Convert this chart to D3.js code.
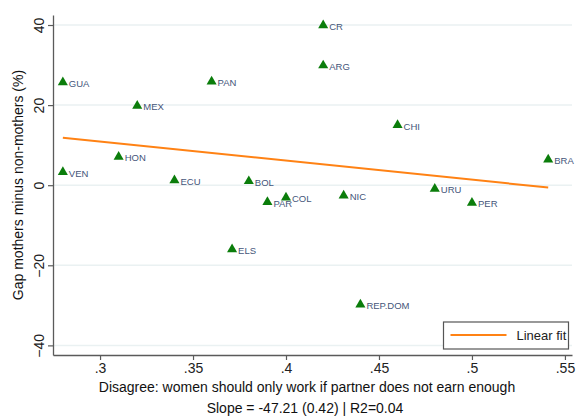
<!DOCTYPE html>
<html>
<head>
<meta charset="utf-8">
<script src="https://cdn.jsdelivr.net/npm/d3@7"></script>
<style>
  body { margin: 0; background: #fff; }
  svg { display: block; font-family: "Liberation Sans", Arial, sans-serif; }
</style>
</head>
<body>
<svg width="577" height="416"></svg>
<script>
var countries = ["GUA", "VEN", "HON", "MEX", "ECU", "PAN", "ELS", "BOL", "PAR", "COL",
                 "CR", "ARG", "NIC", "REP.DOM", "CHI", "URU", "PER", "BRA"];
var disagree = [0.28, 0.28, 0.31, 0.32, 0.34, 0.36, 0.371, 0.38, 0.39, 0.40,
                0.42, 0.42, 0.431, 0.44, 0.46, 0.48, 0.50, 0.541];
var gap = [25.7, 3.3, 7.1, 19.8, 1.2, 25.9, -16.0, 1.0, -4.2, -3.1,
           39.9, 29.9, -2.6, -29.8, 15.0, -0.9, -4.4, 6.4];

var xTicks = [0.3, 0.35, 0.4, 0.45, 0.5, 0.55];
var yTicks = [-40, -20, 0, 20, 40];

var svg = d3.select("svg"),
    width = +svg.attr("width"),
    height = +svg.attr("height");

var margin = {left: 53, right: 5, top: 15, bottom: 61};

var x = d3.scaleLinear()
    .domain([0.2747, 0.5538])
    .range([margin.left, width - margin.right]);

var y = d3.scaleLinear()
    .domain([-42.4, 42.5])
    .range([height - margin.bottom, margin.top]);

// gridlines
svg.append("g")
  .selectAll("line")
  .data(yTicks)
  .enter().append("line")
    .attr("x1", margin.left)
    .attr("x2", width - margin.right)
    .attr("y1", function(d) { return y(d); })
    .attr("y2", function(d) { return y(d); })
    .attr("stroke", "#eaf1f2")
    .attr("stroke-width", 1.5);

// axes
var fmtX = function(d) { return d3.format(".2~f")(d).replace(/^0/, ""); };

var xAxis = svg.append("g")
    .attr("transform", "translate(0," + (height - margin.bottom) + ")")
    .call(d3.axisBottom(x).tickValues(xTicks).tickFormat(fmtX).tickSize(5).tickPadding(3).tickSizeOuter(0));

var yAxis = svg.append("g")
    .attr("transform", "translate(" + margin.left + ",0)")
    .call(d3.axisLeft(y).tickValues(yTicks).tickSize(5).tickSizeOuter(0));

[xAxis, yAxis].forEach(function(a) {
  a.select(".domain").attr("stroke", "#5a5a5a").attr("stroke-width", 1.3);
  a.selectAll(".tick line").attr("stroke", "#5a5a5a").attr("stroke-width", 1.2);
  a.selectAll(".tick text")
      .attr("fill", "#222")
      .style("font-size", "14px")
      .style("font-family", "'Liberation Sans', Arial, sans-serif");
});

yAxis.selectAll(".tick text")
    .attr("x", null).attr("dy", null)
    .attr("text-anchor", "middle")
    .attr("transform", "translate(-9,0) rotate(-90)");

// fit line
var n = disagree.length,
    mx = d3.mean(disagree),
    my = d3.mean(gap),
    sxy = d3.sum(disagree, function(d, i) { return (d - mx) * (gap[i] - my); }),
    sxx = d3.sum(disagree, function(d) { return (d - mx) * (d - mx); }),
    slope = sxy / sxx,
    intercept = my - slope * mx;
var xr = d3.extent(disagree);

svg.append("line")
    .attr("x1", x(xr[0]))
    .attr("x2", x(xr[1]))
    .attr("y1", y(intercept + slope * xr[0]))
    .attr("y2", y(intercept + slope * xr[1]))
    .attr("stroke", "#ff8214")
    .attr("stroke-width", 2);

// points
var pts = svg.append("g")
  .selectAll("g")
  .data(countries)
  .enter().append("g")
    .attr("transform", function(d, i) {
      return "translate(" + x(disagree[i]) + "," + y(gap[i]) + ")";
    });

pts.append("path")
    .attr("d", d3.symbol().type(d3.symbolTriangle).size(44))
    .attr("fill", "#0b7d0b");

pts.append("text")
    .text(function(d) { return d; })
    .attr("x", 6)
    .attr("y", 2)
    .attr("dominant-baseline", "middle")
    .attr("fill", "#44557a")
    .style("font-size", "9.5px");

// legend
var lg = svg.append("g").attr("transform", "translate(443.5,322)");
lg.append("rect")
    .attr("width", 125)
    .attr("height", 27)
    .attr("fill", "#fff")
    .attr("stroke", "#555")
    .attr("stroke-width", 1.2);
lg.append("line")
    .attr("x1", 7).attr("x2", 63)
    .attr("y1", 13).attr("y2", 13)
    .attr("stroke", "#ff8214")
    .attr("stroke-width", 2);
lg.append("text")
    .attr("x", 73).attr("y", 18)
    .attr("fill", "#222")
    .style("font-size", "13px")
    .text("Linear fit");

// titles
svg.append("text")
    .attr("x", 307).attr("y", 392)
    .attr("text-anchor", "middle")
    .attr("fill", "#111")
    .style("font-size", "14px")
    .text("Disagree: women should only work if partner does not earn enough");

svg.append("text")
    .attr("x", 305).attr("y", 413)
    .attr("text-anchor", "middle")
    .attr("fill", "#111")
    .style("font-size", "14px")
    .text("Slope = -47.21 (0.42) | R2=0.04");

svg.append("text")
    .attr("transform", "translate(23,185) rotate(-90)")
    .attr("text-anchor", "middle")
    .attr("fill", "#111")
    .style("font-size", "14px")
    .text("Gap mothers minus non-mothers (%)");
</script>
</body>
</html>
